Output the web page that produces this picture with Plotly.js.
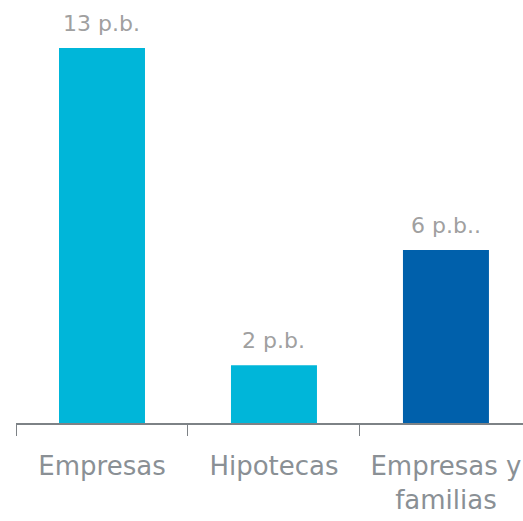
<!DOCTYPE html>
<html><head><meta charset="utf-8">
<script src="https://cdn.plot.ly/plotly-3.0.1.min.js"></script>
<style>html,body{margin:0;padding:0;background:#fff}#c{width:523px;height:521px}</style>
</head><body><div id="c"></div>
<script>
const categories = ["Empresas", "Hipotecas", "Empresas y<br>familias"];
const values = [13, 2, 6];
const valueLabels = ["13 p.b.", "2 p.b.", "6 p.b.."];
const barColors = ["#00B6D9", "#00B6D9", "#0060AB"];

const trace = {
  type: "bar",
  x: categories,
  y: values,
  marker: {color: barColors},
  width: 0.5,
  hoverinfo: "none"
};
const annotations = categories.map((c, i) => ({
  x: c, y: values[i], xref: "x", yref: "y",
  text: valueLabels[i], showarrow: false,
  yanchor: "bottom", yshift: 10,
  font: {family: "DejaVu Sans, sans-serif", size: 22, color: "#a0a0a0"}
}));
const layout = {
  width: 523, height: 521,
  margin: {l: 16, r: 0, t: 0, b: 98},
  paper_bgcolor: "#fff", plot_bgcolor: "#fff",
  showlegend: false,
  xaxis: {
    type: "category",
    range: [-0.5, 2.448],
    showline: true, linecolor: "#7d8286", linewidth: 1.5,
    ticks: "outside", tickson: "boundaries", ticklen: 11, tickcolor: "#7d8286", tickwidth: 1,
    tickfont: {family: "DejaVu Sans, sans-serif", size: 26, color: "#8a9095"},
    ticklabelstandoff: 19,
    showgrid: false, zeroline: false, fixedrange: true
  },
  yaxis: {
    range: [0, 14.66], visible: false, showgrid: false, zeroline: false, fixedrange: true
  },
  annotations: annotations
};
Plotly.newPlot("c", [trace], layout, {displayModeBar: false, staticPlot: true});
</script></body></html>
